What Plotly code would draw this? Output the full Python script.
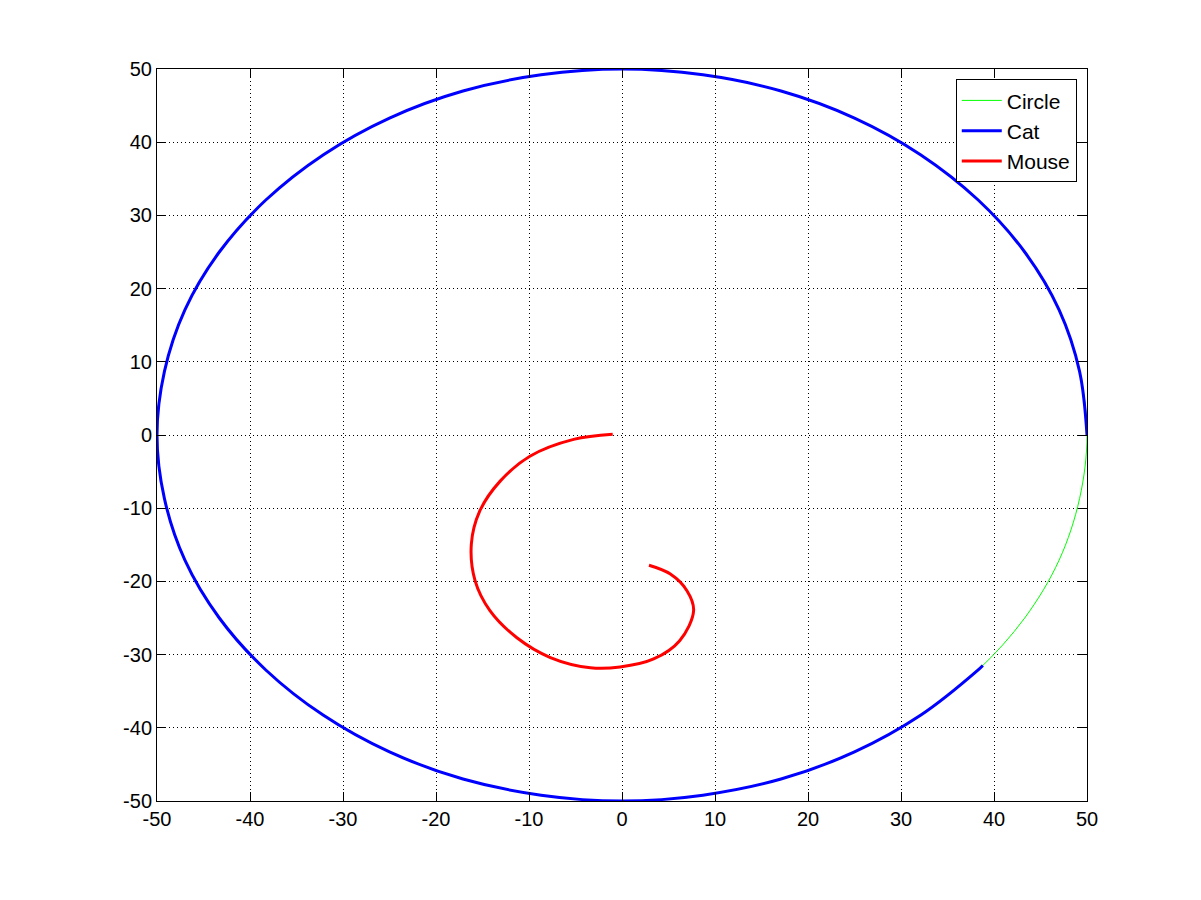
import plotly.graph_objects as go

# Circle of radius 50 (points read every 10 degrees)
circle_x = [50, 49.2, 47.0, 43.3, 38.3, 32.1, 25.0, 17.1, 8.7, 0,
            -8.7, -17.1, -25.0, -32.1, -38.3, -43.3, -47.0, -49.2, -50,
            -49.2, -47.0, -43.3, -38.3, -32.1, -25.0, -17.1, -8.7, 0,
            8.7, 17.1, 25.0, 32.1, 38.3, 43.3, 47.0, 49.2, 50]
circle_y = [0, 8.7, 17.1, 25.0, 32.1, 38.3, 43.3, 47.0, 49.2, 50,
            49.2, 47.0, 43.3, 38.3, 32.1, 25.0, 17.1, 8.7, 0,
            -8.7, -17.1, -25.0, -32.1, -38.3, -43.3, -47.0, -49.2, -50,
            -49.2, -47.0, -43.3, -38.3, -32.1, -25.0, -17.1, -8.7, 0]

# Cat path along the circle (ends near (38.8, -31.5))
cat_x = circle_x[:33] + [38.8]
cat_y = circle_y[:33] + [-31.5]

# Mouse spiral
mouse_x = [-1.0, -5.2, -9.9, -13.1, -15.3, -16.2, -15.8, -14.2, -11.3, -7.7,
           -3.4, -0.2, 3.4, 6.2, 7.7, 7.0, 5.2, 2.9]
mouse_y = [0.1, -0.6, -2.9, -6.3, -10.4, -14.9, -19.9, -24.0, -27.7, -30.4,
           -31.8, -31.7, -30.6, -28.1, -24.0, -21.3, -19.0, -17.8]

ticks = [-50, -40, -30, -20, -10, 0, 10, 20, 30, 40, 50]

fig = go.Figure()
fig.add_trace(go.Scatter(x=circle_x, y=circle_y, mode="lines", name="Circle",
                         line=dict(color="#00ff00", width=1, shape="spline", smoothing=1.0)))
fig.add_trace(go.Scatter(x=cat_x, y=cat_y, mode="lines", name="Cat",
                         line=dict(color="#0000ff", width=3, shape="spline", smoothing=1.0)))
fig.add_trace(go.Scatter(x=mouse_x, y=mouse_y, mode="lines", name="Mouse",
                         line=dict(color="#ff0000", width=3, shape="spline", smoothing=1.0)))

axis_common = dict(
    range=[-50, 50], tickvals=ticks, ticktext=[str(t) for t in ticks],
    showline=True, linecolor="black", linewidth=1, mirror="ticks",
    ticks="inside", ticklen=9, tickcolor="black",
    showgrid=True, gridcolor="black", gridwidth=1, griddash="1px,3px",
    zeroline=False,
    tickfont=dict(family="Liberation Sans, Arial", size=20, color="black"),
)

fig.update_layout(
    width=1201, height=900,
    margin=dict(l=149, r=122, t=61, b=107),
    paper_bgcolor="white", plot_bgcolor="white",
    xaxis=axis_common,
    yaxis=axis_common,
    showlegend=True,
    legend=dict(x=0.989, y=0.986, xanchor="right", yanchor="top",
                bgcolor="white", bordercolor="black", borderwidth=1,
                font=dict(family="Liberation Sans, Arial", size=21, color="black"),
                tracegroupgap=0, itemwidth=40),
)

fig.write_html("out.html")
